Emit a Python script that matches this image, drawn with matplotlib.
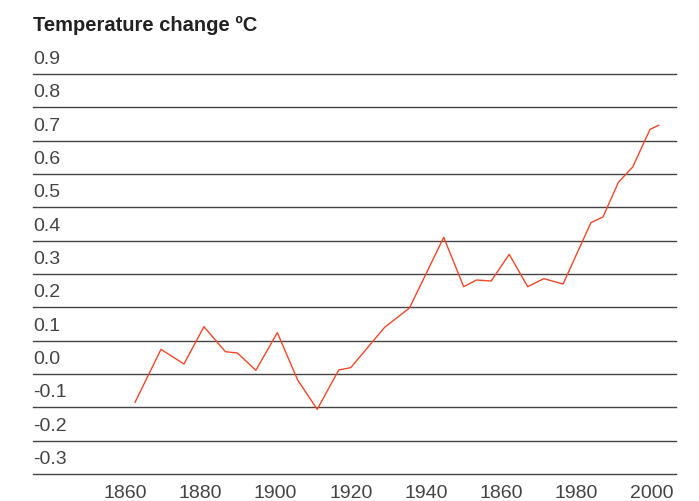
import matplotlib
matplotlib.use("Agg")
import matplotlib.pyplot as plt
from matplotlib.transforms import blended_transform_factory, offset_copy

years = [1862.7, 1869.6, 1875.7, 1881.0, 1886.7, 1889.9, 1894.8, 1900.5, 1905.9,
         1911.1, 1916.8, 1920.0, 1929.0, 1935.6, 1944.7, 1950.0, 1953.4, 1957.3,
         1962.1, 1967.0, 1971.3, 1976.4, 1983.8, 1987.0, 1991.1, 1994.9, 1999.5, 2001.8]
temps = [-0.085, 0.074, 0.030, 0.142, 0.067, 0.063, 0.011, 0.124, -0.018,
         -0.106, 0.012, 0.019, 0.140, 0.198, 0.410, 0.262, 0.282, 0.279,
         0.359, 0.262, 0.286, 0.270, 0.454, 0.471, 0.575, 0.621, 0.734, 0.746]

y_ticks = [0.9, 0.8, 0.7, 0.6, 0.5, 0.4, 0.3, 0.2, 0.1, 0.0, -0.1, -0.2, -0.3]
y_labels = ["0.9", "0.8", "0.7", "0.6", "0.5", "0.4", "0.3", "0.2", "0.1", "0.0",
            "-0.1", "-0.2", "-0.3"]
x_ticks = [1860, 1880, 1900, 1920, 1940, 1960, 1980, 2000]
x_labels = ["1860", "1880", "1900", "1920", "1940", "1860", "1980", "2000"]

plt.rcParams['font.family'] = ['Liberation Sans', 'DejaVu Sans']

W, H = 699, 502
fig = plt.figure(figsize=(W / 100, H / 100), dpi=100)
left, right, top, bottom = 33, 676, 75, 475
ax = fig.add_axes([left / W, 1 - bottom / H, (right - left) / W, (bottom - top) / H])

ax.set_xlim(1835.6, 2006.4)
ax.set_ylim(-0.3, 0.9)
for s in ax.spines.values():
    s.set_visible(False)
ax.set_xticks([])
ax.set_yticks([])
ax.patch.set_alpha(0)

for v in y_ticks:
    ax.axhline(v, color="#444444", lw=1.0, zorder=1, clip_on=False)

trans = blended_transform_factory(ax.transAxes, ax.transData)
for v, lab in zip(y_ticks, y_labels):
    t = offset_copy(trans, fig=fig, x=0, y=7.9, units='points')
    ax.text(0.0, v, lab, transform=t, ha='left', va='baseline', fontsize=14,
            color='#444444')

tx = blended_transform_factory(ax.transData, ax.transAxes)
for xv, lab in zip(x_ticks, x_labels):
    t = offset_copy(tx, fig=fig, x=0, y=-16.5, units='points')
    ax.text(xv, 0.0, lab, transform=t, ha='center', va='baseline', fontsize=14,
            color='#444444')

ax.plot(years, temps, color='#f0482a', lw=1.0, zorder=3, clip_on=False)

fig.text(left / W, 1 - 31 / H, "Temperature change ºC", ha='left', va='baseline',
         fontsize=14.5, fontweight='bold', color='#222222')

fig.savefig("out.png", dpi=100)
